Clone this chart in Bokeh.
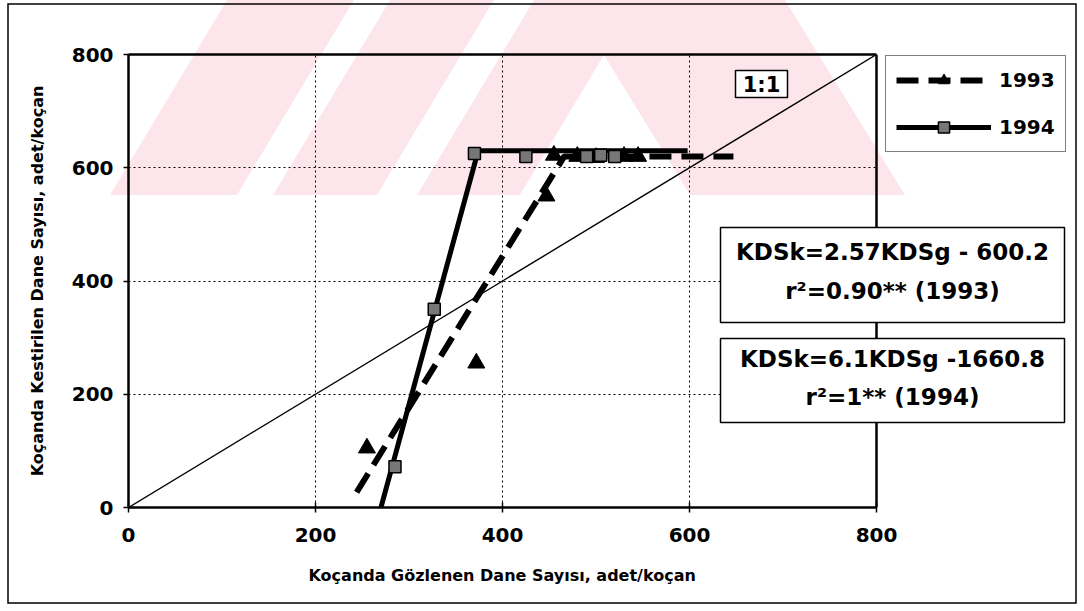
from urllib.parse import quote
from bokeh.plotting import figure
from bokeh.models import (Range1d, Label, BoxAnnotation, Legend, LegendItem,
                          FixedTicker, LinearAxis, Span, Grid, Title)
from bokeh.embed import file_html
from bokeh.resources import INLINE

# ---------------- data ----------------
ticks = [0, 200, 400, 600, 800]
grid_ticks = [200, 400, 600]

obs_1993 = [255, 372, 447, 455, 480, 500, 530, 545]
est_1993 = [105, 255, 550, 622, 620, 618, 620, 620]

obs_1994 = [285, 327, 370, 425, 490, 505, 520]
est_1994 = [72, 350, 625, 620, 620, 622, 620]

fit_1993_x = [244, 466, 647]
fit_1993_y = [27, 620, 620]

fit_1994_x = [270, 374, 598]
fit_1994_y = [0, 630, 630]

one_x = [0, 800]
one_y = [0, 800]

x_title = "Koçanda Gözlenen Dane Sayısı, adet/koçan"
y_title = "Koçanda Kestirilen Dane Sayısı, adet/koçan"
eq_1993 = ["KDSk=2.57KDSg - 600.2", "r²=0.90** (1993)"]
eq_1994 = ["KDSk=6.1KDSg -1660.8", "r²=1** (1994)"]

FONT = "DejaVu Sans"
W, H = 1080, 608
LEFT, TOP, BOTTOM, RIGHT = 128, 54, 507, 1075      # frame edges (page px)
PLOT_RIGHT = 876                                    # where x = 800 sits
X_END = 800 * (RIGHT - LEFT) / (PLOT_RIGHT - LEFT)

p = figure(width=W, height=H, x_range=Range1d(0, X_END), y_range=Range1d(0, 800),
           output_backend="svg", toolbar_location=None,
           min_border_left=LEFT, min_border_right=W - RIGHT,
           min_border_top=TOP, min_border_bottom=H - BOTTOM)
p.background_fill_color = None
p.border_fill_color = None
p.outline_line_color = None

# watermark + outer frame drawn as page background
wm = [
    [(110, 195), (237, 195), (354, 0), (227, 0)],
    [(273, 195), (377, 195), (494, 0), (390, 0)],
    [(417, 195), (520, 195), (637, 0), (534, 0)],
    [(570, 0), (785, 0), (905, 195), (690, 195)],
]
svg = [f'<svg xmlns="http://www.w3.org/2000/svg" width="{W}" height="{H}">']
for poly in wm:
    pts = " ".join(f"{x},{y}" for x, y in poly)
    svg.append(f'<polygon points="{pts}" fill="#fde6eb"/>')
svg.append('<rect x="8" y="4" width="1068" height="599" fill="none" '
           'stroke="black" stroke-width="1.5"/>')
svg.append('</svg>')
p.styles = {"background-image": 'url("data:image/svg+xml,' + quote("".join(svg)) + '")',
            "background-repeat": "no-repeat"}

for ax in (p.xaxis, p.yaxis):
    ax.ticker = FixedTicker(ticks=ticks)
    ax.bounds = (0, 800)
    ax.axis_line_width = 2.5
    ax.major_tick_line_width = 1.5
    ax.major_tick_in = 5
    ax.major_tick_out = 5
    ax.minor_tick_line_color = None
    ax.major_label_text_font = FONT
    ax.major_label_text_font_style = "bold"
    ax.major_label_text_font_size = "20px"
    ax.major_label_text_color = "black"
    ax.axis_label_text_font = FONT
    ax.axis_label_text_font_style = "bold"
    ax.axis_label_text_font_size = "16px"
    ax.axis_label_text_color = "black"

p.yaxis.axis_label = y_title
p.xaxis.major_label_standoff = 15
p.yaxis.major_label_standoff = 10
p.yaxis.axis_label_standoff = 22
p.yaxis.major_tick_in = 0

# x title: centred under the 0..800 part of the axis
p.add_layout(Title(text=x_title, align="left", offset=308 - LEFT, standoff=39,
                   text_font=FONT, text_font_style="bold", text_font_size="16px",
                   text_color="black"), "below")

# top border of plot area
top_ax = LinearAxis(ticker=FixedTicker(ticks=[]), bounds=(0, 800),
                    axis_line_width=2.5, major_tick_in=0, major_tick_out=0,
                    minor_tick_line_color=None, major_label_text_font_size="0px")
p.add_layout(top_ax, "above")
# right border of plot area
p.add_layout(Span(location=800, dimension="height", line_color="black", line_width=2.5))

for g in (p.xgrid, p.ygrid):
    g.ticker = FixedTicker(ticks=grid_ticks)
    g.grid_line_color = "black"
    g.grid_line_width = 1
    g.grid_line_dash = "2 3"
if "cross_bounds" in Grid.properties():
    p.ygrid.cross_bounds = (0, 800)
else:
    p.ygrid.visible = False
    p.segment(x0=[0] * len(grid_ticks), y0=grid_ticks, x1=[800] * len(grid_ticks),
              y1=grid_ticks, line_color="black", line_width=1, line_dash="2 3",
              level="underlay")

# 1:1 line
p.line(one_x, one_y, line_color="black", line_width=1.4)

# fitted lines
r93 = p.line(fit_1993_x, fit_1993_y, line_color="black", line_width=6, line_dash="22 10")
r94 = p.line(fit_1994_x, fit_1994_y, line_color="black", line_width=5)

# observations
m93 = p.scatter(obs_1993, est_1993, marker="triangle", size=17,
                fill_color="black", line_color="black")
m94 = p.scatter(obs_1994, est_1994, marker="square", size=12,
                fill_color="#777777", line_color="black", line_width=1.5)

LEG_L, LEG_B = 885, 152
legend = Legend(items=[LegendItem(label="1993", renderers=[r93, m93]),
                       LegendItem(label="1994", renderers=[r94, m94])],
                location=(LEG_L - LEFT, BOTTOM - LEG_B), orientation="vertical",
                glyph_width=95, glyph_height=28, label_height=28, spacing=19,
                padding=10, margin=0, label_standoff=8,
                border_line_color="black", border_line_width=1.5,
                background_fill_color="white", background_fill_alpha=1,
                label_text_font=FONT, label_text_font_style="bold",
                label_text_font_size="20px", label_text_color="black")
p.add_layout(legend)

# text boxes (canvas coordinates = page coordinates)
def box(l, t, r, b):
    p.add_layout(BoxAnnotation(left=l, right=r, top=t, bottom=b,
                               left_units="canvas", right_units="canvas",
                               top_units="canvas", bottom_units="canvas",
                               fill_color="white", fill_alpha=1,
                               line_color="black", line_width=1.5, line_alpha=1))

def text(x, y, s, size):
    p.add_layout(Label(x=x, y=y, x_units="canvas", y_units="canvas", text=s,
                       text_align="center", text_baseline="middle",
                       text_font=FONT, text_font_style="bold",
                       text_font_size=size, text_color="black"))

box(735, 70, 787, 97)
text(761, 84, "1:1", "21px")

EQ_L, EQ_R = 720, 1064
EQ_C = (EQ_L + EQ_R) / 2
box(EQ_L, 227, EQ_R, 322)
text(EQ_C, 251, eq_1993[0], "23px")
text(EQ_C, 290, eq_1993[1], "23px")

box(EQ_L, 338, EQ_R, 422)
text(EQ_C, 358, eq_1994[0], "23px")
text(EQ_C, 396, eq_1994[1], "23px")

open("out.html", "w").write(file_html(p, INLINE))
